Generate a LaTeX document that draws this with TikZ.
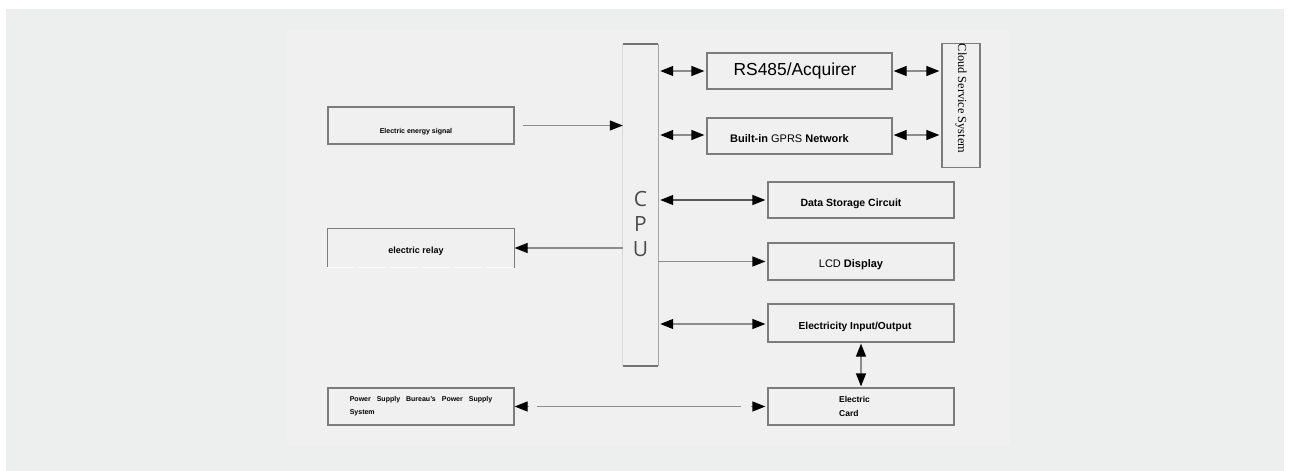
\documentclass[tikz,border=0pt]{standalone}
\usepackage{fontspec}
\setmainfont{Liberation Sans}
\newfontfamily\cloudfont{Liberation Serif}
\newfontfamily\cpufont{Open Sans}
\usetikzlibrary{arrows.meta}
\definecolor{bgc}{HTML}{EDEEEE}
\definecolor{panelc}{HTML}{F0F0F0}
\definecolor{boxc}{HTML}{7C7C7C}
\definecolor{linec}{HTML}{8C8C8C}
\newcommand\fs[1]{\fontsize{#1}{#1}\selectfont}
\newcommand\txt[3]{\raisebox{#2}[\height][\depth]{#3}\kern#1\relax}
\tikzset{
  box/.style={draw=boxc, line width=1.2pt, inner sep=0pt, minimum width=186pt, minimum height=37pt, font=\bfseries},
  conn/.style={draw=linec, line width=1.2pt},
  >={Triangle[length=13pt,width=10pt,color=black]},
}
\begin{document}
\begin{tikzpicture}[x=1pt,y=-1pt]
\useasboundingbox (0,0) rectangle (1290,471);
\fill[white] (0,0) rectangle (1290,471);
\fill[bgc] (6,9) rectangle (1284,471);
\fill[panelc] (287,30) rectangle (1010,445);

% left boxes
\node[box] (sig) at (421,125.5) {\fs{7}\txt{10pt}{-6pt}{Electric energy signal}};
\node[box, draw=none, minimum height=38pt] (relay) at (421,248) {\fs{9}\txt{10pt}{-3pt}{electric relay}};
\draw[boxc, line width=1.2pt] (relay.south west) -- (relay.north west) -- (relay.north east) -- (relay.south east);
\draw[white, line width=1.2pt, dash pattern=on 26pt off 6pt] (relay.south west) -- (relay.south east);
\node[box, align=left, font=\bfseries\fs{7}] (pow) at (421,406.5) {Power\hspace{6pt}Supply\hspace{6pt}Bureau's\hspace{6pt}Power\hspace{6pt}Supply\\[6pt]System};

% CPU
\node[draw=none, inner sep=0pt, minimum width=35pt, minimum height=322pt] (cpu) at (640.5,205)
  {\raisebox{-21pt}[\height][\depth]{\color{black!70}\cpufont\fontsize{21}{25}\selectfont\begin{tabular}{@{}c@{}}C\\P\\U\end{tabular}}};
\draw[black!15, line width=1pt] (cpu.north west) -- (cpu.south west);
\draw[black!35, line width=1.2pt] (cpu.north east) -- (cpu.south east);
\draw[black!55, line width=1.6pt] (cpu.north west) -- (cpu.north east);
\draw[black!55, line width=1.6pt] (cpu.south west) -- (cpu.south east);

% right boxes
\node[box, font=\mdseries, minimum width=185pt, minimum height=36pt] (rs) at (799.5,71) {\fs{17.4}\txt{9pt}{0pt}{RS485/Acquirer}};
\node[box, minimum width=185pt, minimum height=36pt] (gprs) at (799.5,136) {\fs{11}\txt{20pt}{-3pt}{Built-in \mdseries GPRS \bfseries Network}};
\node[box, font=\mdseries, rotate=-90, minimum width=123pt, minimum height=38pt] (cloud) at (961,105.5) {\cloudfont\fs{12.3}Cloud Service System\kern14pt};
\node[box, minimum height=36pt] (ds) at (861,200) {\fs{10.5}\txt{20pt}{-4pt}{Data Storage Circuit}};
\node[box] (lcd) at (861,261.5) {\fs{11}\txt{20pt}{-3pt}{\mdseries LCD \bfseries Display}};
\node[box, minimum height=38pt] (eio) at (861,323) {\fs{10.2}\txt{12pt}{-4pt}{Electricity Input/Output}};
\node[box, align=left, font=\bfseries\fs{8.5}] (card) at (861,406.5) {Electric\kern13pt\\[5pt]Card};

% connectors
\draw[conn,->] ([xshift=8pt]sig.east) -- (sig.east -| cpu.west);
\draw[conn,->] (relay.east -| cpu.west) -- (relay.east);
\draw[conn,<->, shorten <=2pt, shorten >=2pt] (rs.west -| cpu.east) -- (rs.west);
\draw[conn,<->, shorten <=1pt, shorten >=2pt] (rs.east) -- (rs.east -| cloud.south);
\draw[conn,<->, shorten <=2pt, shorten >=2pt] ([yshift=1pt]gprs.west -| cpu.east) -- ([yshift=1pt]gprs.west);
\draw[conn,<->, shorten <=1pt, shorten >=2pt] ([yshift=1pt]gprs.east) -- ([yshift=1pt]gprs.east -| cloud.south);
\draw[conn,<->, draw=black!65, shorten <=2pt, shorten >=2pt] (ds.west -| cpu.east) -- (ds.west);
\draw[conn,->, shorten >=2pt] (lcd.west -| cpu.east) -- (lcd.west);
\draw[conn,<->, shorten <=2pt, shorten >=2pt] ([yshift=-1pt]eio.west -| cpu.east) -- ([yshift=-1pt]eio.west);
\draw[conn,<->, shorten <=1pt, shorten >=1pt] (eio.south) -- (card.north);
\draw[conn, shorten <=22pt, shorten >=26pt] (pow.east) -- (card.west);
\draw[conn,->] ([xshift=14pt]pow.east) -- (pow.east);
\draw[conn,->, shorten >=2pt] ([xshift=-16pt]card.west) -- (card.west);
\end{tikzpicture}
\end{document}
